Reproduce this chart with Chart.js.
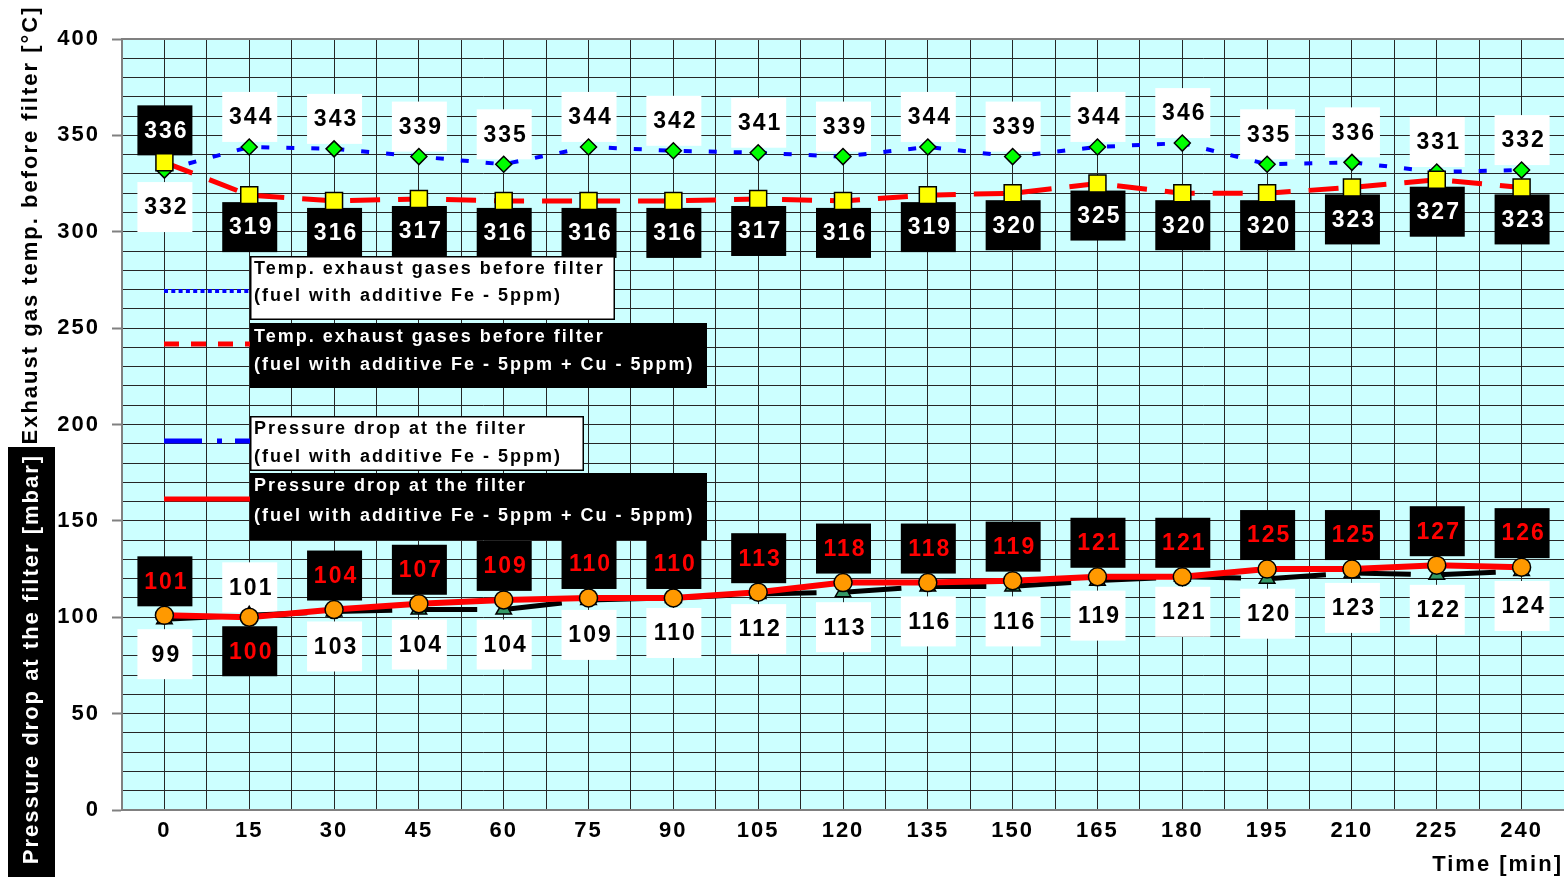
<!DOCTYPE html>
<html>
<head>
<meta charset="utf-8">
<script src="https://cdn.jsdelivr.net/npm/chart.js@4.4.1/dist/chart.umd.min.js"></script>
<style>
  html, body { margin: 0; padding: 0; background: #fff; overflow: hidden; }
  canvas { display: block; }
</style>
</head>
<body>
<canvas id="c" width="1564" height="877"></canvas>
<script>
// Test time points [min]
const timeMin = [0, 15, 30, 45, 60, 75, 90, 105, 120, 135, 150, 165, 180, 195, 210, 225, 240];

// Exhaust gas temperature before filter [°C]
const tempFe   = [332, 344, 343, 339, 335, 344, 342, 341, 339, 344, 339, 344, 346, 335, 336, 331, 332];
const tempFeCu = [336, 319, 316, 317, 316, 316, 316, 317, 316, 319, 320, 325, 320, 320, 323, 327, 323];

// Pressure drop at the filter [mbar]
const presFe   = [99, 101, 103, 104, 104, 109, 110, 112, 113, 116, 116, 119, 121, 120, 123, 122, 124];
const presFeCu = [101, 100, 104, 107, 109, 110, 110, 113, 118, 118, 119, 121, 121, 125, 125, 127, 126];

// Axis tick labels
const xTickLabels = timeMin;
const yTickLabels = [0, 50, 100, 150, 200, 250, 300, 350, 400];

// Legend texts
const legendTexts = [
  ['Temp. exhaust gases before filter', '(fuel with additive Fe - 5ppm)'],
  ['Temp. exhaust gases before filter', '(fuel with additive Fe - 5ppm + Cu - 5ppm)'],
  ['Pressure drop at the filter', '(fuel with additive Fe - 5ppm)'],
  ['Pressure drop at the filter', '(fuel with additive Fe - 5ppm + Cu - 5ppm)']
];

const FONT = '"Liberation Sans", Arial, sans-serif';
const toPoints = (vals) => vals.map((v, i) => ({ x: timeMin[i], y: v }));

// Value label styling per series: box colour, text colour, offsets (px) above / below the point,
// default side and the indices where the label goes to the other side.
const labelStyles = {
  tempFe:   { box: '#ffffff', text: '#000000', above: -30, below: 37, side: 'above', flip: [0] },
  tempFeCu: { box: '#000000', text: '#ffffff', above: -32, below: 32, side: 'below', flip: [0] },
  presFe:   { box: '#ffffff', text: '#000000', above: -28, below: 35, side: 'below', flip: [1] },
  presFeCu: { box: '#000000', text: '#ff0000', above: -34, below: 34, side: 'above', flip: [1] }
};

const datasets = [
  {
    key: 'tempFeCu', label: legendTexts[1].join(' '), data: toPoints(tempFeCu), order: 1,
    borderColor: '#ff0000', borderWidth: 5, borderDash: [30, 18],
    pointStyle: 'rect', pointRadius: 12, pointBackgroundColor: '#ffff00',
    pointBorderColor: '#000000', pointBorderWidth: 1.5
  },
  {
    key: 'tempFe', label: legendTexts[0].join(' '), data: toPoints(tempFe), order: 2,
    borderColor: '#0000ff', borderWidth: 4, borderDash: [8, 17],
    pointStyle: 'rectRot', pointRadius: 8, pointBackgroundColor: '#00ff00',
    pointBorderColor: '#000000', pointBorderWidth: 1.5
  },
  {
    key: 'presFeCu', label: legendTexts[3].join(' '), data: toPoints(presFeCu), order: 3,
    borderColor: '#ff0000', borderWidth: 6,
    pointStyle: 'circle', pointRadius: 9, pointBackgroundColor: '#ff9900',
    pointBorderColor: '#000000', pointBorderWidth: 1.5
  },
  {
    key: 'presFe', label: legendTexts[2].join(' '), data: toPoints(presFe), order: 4,
    borderColor: '#000000', borderWidth: 5, borderDash: [58, 27],
    pointStyle: 'triangle', pointRadius: 9, pointBackgroundColor: '#339966',
    pointBorderColor: '#000000', pointBorderWidth: 1.5
  }
];
datasets.forEach(d => { d.tension = 0; d.fill = false; d.pointHoverRadius = d.pointRadius; });

// Plot background, frame and global text spacing
const backdrop = {
  id: 'backdrop',
  beforeDraw(chart) {
    const { ctx, chartArea: a } = chart;
    ctx.letterSpacing = '2px';
    ctx.save();
    ctx.fillStyle = '#ccffff';
    ctx.fillRect(a.left, a.top, a.right - a.left, a.bottom - a.top);
    ctx.restore();
  },
  beforeDatasetsDraw(chart) {
    const { ctx, chartArea: a } = chart;
    ctx.save();
    ctx.strokeStyle = '#808080';
    ctx.lineWidth = 2;
    ctx.beginPath();
    ctx.moveTo(a.left, a.top);
    ctx.lineTo(a.right, a.top);
    ctx.stroke();
    ctx.restore();
  }
};

// Boxed value labels next to each point
const valueLabels = {
  id: 'valueLabels',
  beforeDatasetsDraw(chart) {
    const ctx = chart.ctx;
    ctx.save();
    ctx.font = 'bold 23px ' + FONT;
    ctx.textAlign = 'center';
    ctx.textBaseline = 'middle';
    chart.data.datasets.forEach((ds, i) => {
      const st = labelStyles[ds.key];
      const meta = chart.getDatasetMeta(i);
      meta.data.forEach((pt, j) => {
        let side = st.side;
        if (st.flip.includes(j)) side = side === 'above' ? 'below' : 'above';
        const cx = pt.x;
        const cy = pt.y + (side === 'above' ? st.above : st.below);
        ctx.fillStyle = st.box;
        ctx.fillRect(cx - 27, cy - 25, 55, 50);
        ctx.fillStyle = st.text;
        ctx.fillText(String(ds.data[j].y), cx + 2, cy + 1);
      });
    });
    ctx.restore();
  }
};

// Legend drawn inside the plot area
const legendBoxes = {
  id: 'legendBoxes',
  afterDatasetsDraw(chart) {
    const ctx = chart.ctx;
    const boxes = [
      { x: 250, y: 256, w: 365, h: 64, fill: '#ffffff', text: '#000000', border: true, ly: [269, 296], sy: 291,
        line: { color: '#0000ff', width: 4, dash: [4, 3.3] } },
      { x: 250, y: 323, w: 457, h: 65, fill: '#000000', text: '#ffffff', border: false, ly: [337, 365], sy: 344,
        line: { color: '#ff0000', width: 5, dash: [15, 12] } },
      { x: 250, y: 416, w: 334, h: 55, fill: '#ffffff', text: '#000000', border: true, ly: [429, 457], sy: 441,
        line: { color: '#0000ff', width: 5, dash: [38, 15, 5, 13] } },
      { x: 250, y: 473, w: 457, h: 67, fill: '#000000', text: '#ffffff', border: false, ly: [486, 516], sy: 499,
        line: { color: '#ff0000', width: 5, dash: [] } }
    ];
    ctx.save();
    boxes.forEach((b, i) => {
      ctx.setLineDash(b.line.dash);
      ctx.strokeStyle = b.line.color;
      ctx.lineWidth = b.line.width;
      ctx.beginPath();
      ctx.moveTo(164, b.sy);
      ctx.lineTo(250, b.sy);
      ctx.stroke();
      ctx.setLineDash([]);
      ctx.fillStyle = b.fill;
      ctx.fillRect(b.x, b.y, b.w, b.h);
      if (b.border) {
        ctx.strokeStyle = '#000000';
        ctx.lineWidth = 1.5;
        ctx.strokeRect(b.x + 0.75, b.y + 0.75, b.w - 1.5, b.h - 1.5);
      }
      ctx.fillStyle = b.text;
      ctx.font = 'bold 18px ' + FONT;
      ctx.textAlign = 'left';
      ctx.textBaseline = 'middle';
      ctx.fillText(legendTexts[i][0], 254, b.ly[0]);
      ctx.fillText(legendTexts[i][1], 254, b.ly[1]);
    });
    ctx.restore();
  }
};

// Axis titles
const axisTitles = {
  id: 'axisTitles',
  afterDraw(chart) {
    const ctx = chart.ctx;
    ctx.save();
    ctx.font = 'bold 22px ' + FONT;
    ctx.textAlign = 'center';
    ctx.textBaseline = 'middle';
    // temperature axis title
    ctx.save();
    ctx.translate(31, 225);
    ctx.rotate(-Math.PI / 2);
    ctx.fillStyle = '#000000';
    ctx.fillText('Exhaust gas temp. before filter [°C]', 0, 0);
    ctx.restore();
    // pressure axis title on a dark band
    ctx.fillStyle = '#000000';
    ctx.fillRect(8, 447, 47, 430);
    ctx.save();
    ctx.translate(32, 659);
    ctx.rotate(-Math.PI / 2);
    ctx.fillStyle = '#ffffff';
    ctx.fillText('Pressure drop at the filter [mbar]', 0, 0);
    ctx.restore();
    // time axis title
    ctx.fillStyle = '#000000';
    ctx.font = 'bold 22px ' + FONT;
    ctx.textAlign = 'right';
    ctx.fillText('Time [min]', 1563, 865);
    ctx.restore();
  }
};

const gridColor = '#262626';

new Chart(document.getElementById('c'), {
  type: 'line',
  data: { datasets },
  options: {
    responsive: false,
    animation: false,
    devicePixelRatio: 1,
    layout: { autoPadding: false, padding: { top: 39, left: 0, right: 0, bottom: 0 } },
    plugins: { legend: { display: false }, tooltip: { enabled: false } },
    scales: {
      x: {
        type: 'linear',
        min: -7.5,
        max: 247.5,
        afterFit(scale) { scale.height = 67; scale.paddingLeft = 0; scale.paddingRight = 0; },
        ticks: {
          stepSize: 7.5,
          autoSkip: false,
          maxRotation: 0,
          padding: 8,
          color: '#000000',
          font: { family: FONT, size: 22, weight: 'bold' },
          callback(v) {
            const r = Math.round(v * 100) / 100;
            return xTickLabels.includes(r) ? String(r) : '';
          }
        },
        grid: { color: gridColor, lineWidth: 1, drawTicks: false },
        border: { display: true, color: '#808080', width: 2 }
      },
      y: {
        type: 'linear',
        min: 0,
        max: 400,
        afterFit(scale) { scale.width = 122; scale.paddingTop = 0; scale.paddingBottom = 0; },
        ticks: {
          stepSize: 10,
          autoSkip: false,
          padding: 12,
          color: '#000000',
          font: { family: FONT, size: 22, weight: 'bold' },
          callback(v) { return yTickLabels.includes(v) ? String(v) : ''; }
        },
        grid: {
          color: gridColor,
          lineWidth: 1,
          drawTicks: true,
          tickLength: 10,
          tickWidth: 2,
          tickColor: (c) => (c.tick && yTickLabels.includes(c.tick.value)) ? '#808080' : 'rgba(0,0,0,0)'
        },
        border: { display: true, color: '#808080', width: 2 }
      }
    }
  },
  plugins: [backdrop, valueLabels, legendBoxes, axisTitles]
});
</script>
</body>
</html>
